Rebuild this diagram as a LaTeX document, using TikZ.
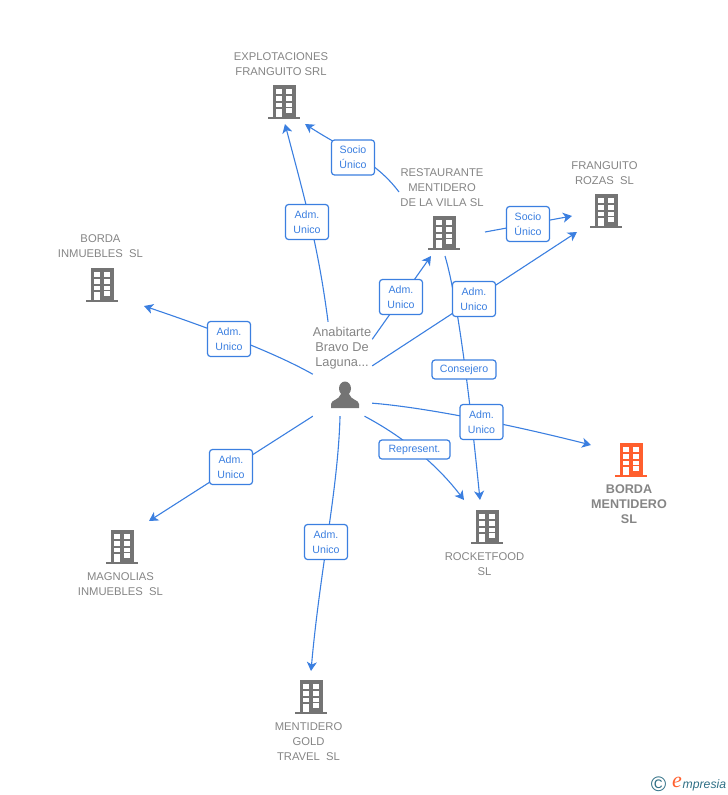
\documentclass[tikz,border=0pt]{standalone}
\usepackage{fontspec}
\setmainfont{Liberation Sans}
\newfontfamily\logofont{Liberation Serif}
\usepackage{xcolor}
\usepackage{tikz}
\usetikzlibrary{arrows.meta, calc}

\definecolor{linkblue}{HTML}{3B7FE0}
\definecolor{icongray}{HTML}{747474}
\definecolor{textgray}{HTML}{858585}
\definecolor{iconorange}{HTML}{FF5F2E}
\definecolor{logoteal}{HTML}{2F6F85}

\tikzset{
    building/.pic={
        \fill[pic actions] (-11.5,-17) rectangle (11.5,15);
        \fill[pic actions] (-16,15) rectangle (16,17);
        \foreach \wy/\wh in {-12.7/4.7, -6/4.7, 0.7/4.2} {
            \fill[white] (-8,\wy) rectangle +(5.5,\wh);
            \fill[white] (2,\wy) rectangle +(5.5,\wh);
        }
        \fill[white] (2,6.3) rectangle +(5.5,4.4);
        \fill[white] (-8,7) rectangle (-2.5,15);
    },
    personicon/.pic={
        \fill[icongray] (0,-6.5) ellipse (6 and 7);
        \fill[icongray] (-14,13) -- (-14,9) .. controls (-14,5) and (-6,5) .. (-4,-1)
            -- (4,-1) .. controls (6,5) and (14,5) .. (14,9) -- (14,13) -- cycle;
    }
}

\begin{document}
\begin{tikzpicture}[
    x=1pt, y=-1pt,
    company/.style={minimum width=32pt, minimum height=34pt, inner sep=0pt},
    owner/.style={minimum width=59pt, minimum height=94pt, inner sep=0pt},
    cname/.style={align=center, text=textgray, inner sep=0pt, font=\fontsize{11.25}{15}\selectfont},
    mainname/.style={cname, font=\fontsize{12.6}{15}\selectfont\bfseries},
    ownername/.style={cname, font=\fontsize{12.8}{15}\selectfont},
    link/.style={draw=linkblue, line width=1.1pt, -{Stealth[length=9pt, width=10pt, inset=2.5pt]}},
    tagbox/.style={draw=linkblue, line width=1.2pt, rounded corners=3pt, fill=white, align=center, text=linkblue,
        inner sep=0pt, font=\fontsize{10.6}{15}\selectfont},
    tagtall/.style={tagbox, minimum width=43pt, minimum height=35pt},
    tagflat/.style={tagbox, minimum height=19pt}
]
\useasboundingbox (0,0) rectangle (728,795);

\node[company] (explot) at (284,102) {};
\node[company] (resta) at (444,233) {};
\node[company] (frang) at (606,211) {};
\node[company] (bordain) at (102,285) {};
\node[company] (magno) at (122,547) {};
\node[company] (gold) at (311,697) {};
\node[company] (rocket) at (487,527) {};
\node[company] (bordam) at (631,460) {};
\node[owner] (person) at (342.5,369) {};

\foreach \c in {explot, resta, frang, bordain, magno, gold, rocket}
    \pic[fill=icongray] at (\c) {building};
\pic[fill=iconorange] at (bordam) {building};
\pic at (345,395) {personicon};

\node[cname] (explottxt) at (281,64.3) {EXPLOTACIONES\\FRANGUITO SRL};
\node[cname] (restatxt) at (442,187.8) {RESTAURANTE\\MENTIDERO\\DE LA VILLA SL};
\node[cname] (frangtxt) at (604.5,173.3) {FRANGUITO\\ROZAS\ \ SL};
\node[cname] (bordaintxt) at (100.5,246.3) {BORDA\\INMUEBLES\ \ SL};
\node[cname] (magnotxt) at (120.5,584.3) {MAGNOLIAS\\INMUEBLES\ \ SL};
\node[cname] (goldtxt) at (308.5,741.8) {MENTIDERO\\GOLD\\TRAVEL\ \ SL};
\node[cname] (rockettxt) at (484.5,564.3) {ROCKETFOOD\\SL};
\node[mainname] (bordamtxt) at (629,504) {BORDA\\MENTIDERO\\SL};
\node[ownername] (persontxt) at (342,348) {Anabitarte\\Bravo De\\Laguna...};

% free ends next to the companies
\coordinate (explotA) at ($(explot)+(1,22)$);
\coordinate (explotB) at ($(explot)+(21,22)$);
\coordinate (restaA) at ($(resta)+(-13,23)$);
\coordinate (restaB) at ($(resta)+(1,23)$);
\coordinate (restaC) at ($(resta)+(41,-1)$);
\coordinate (restaD) at ($(resta)+(-45,-41)$);
\coordinate (frangA) at ($(frang)+(-34,5)$);
\coordinate (frangB) at ($(frang)+(-29,21)$);
\coordinate (bordainA) at ($(bordain)+(42,21)$);
\coordinate (magnoA) at ($(magno)+(27,-26)$);
\coordinate (goldA) at ($(gold)+(0,-26)$);
\coordinate (rocketA) at ($(rocket)+(-23,-27)$);
\coordinate (rocketB) at ($(rocket)+(-7,-27)$);
\coordinate (bordamA) at ($(bordam)+(-40,-15)$);

\draw[link] (person.107) .. controls (318,245) and (305,200) .. (explotA);
\draw[link] (restaD) .. controls (375,160) and (345,150) .. (explotB);
\draw[link] (person.45) -- (restaA);
\draw[link] (person.6) -- (frangB);
\draw[link] (restaC) -- (frangA);
\draw[link] (restaB) .. controls (458,300) and (470,400) .. (rocketB);
\draw[link] (person.-49) .. controls (420,407) and (500,422) .. (bordamA);
\draw[link] (person.-65) .. controls (400,435) and (435,462) .. (rocketA);
\draw[link] (person.-93) .. controls (338,490) and (320,570) .. (goldA);
\draw[link] (person.south west) -- (magnoA);
\draw[link] (person.-170) .. controls (270,350) and (200,325) .. (bordainA);

\node[tagtall] (tagexplot) at (307,222) {Adm.\\Unico};
\node[tagtall] (tagsocio) at (353,157.5) {Socio\\Único};
\node[tagtall] (tagresta) at (401,297) {Adm.\\Unico};
\node[tagtall] (tagfrang) at (474,299) {Adm.\\Unico};
\node[tagtall] (tagsocioB) at (528,224) {Socio\\Único};
\node[tagflat, minimum width=64pt] (tagcons) at (464,369.5) {Consejero};
\node[tagtall] (tagborda) at (481.5,422) {Adm.\\Unico};
\node[tagflat, minimum width=71pt] (tagrep) at (414.5,449.5) {Represent.};
\node[tagtall] (taggold) at (326,542) {Adm.\\Unico};
\node[tagtall] (tagmagno) at (231,467) {Adm.\\Unico};
\node[tagtall] (tagbordain) at (229,339) {Adm.\\Unico};

\node[inner sep=0pt, text=logoteal, font=\fontsize{21}{21}\selectfont] (logoc) at (658.5,784.5) {©};
\node[inner sep=0pt, text=iconorange, font=\logofont\itshape\fontsize{22}{22}\selectfont] (logoe) at (677,782) {e};
\node[inner sep=0pt, text=logoteal, anchor=west, font=\itshape\fontsize{12.2}{14}\selectfont] (logot) at (682.5,785) {mpresia};
\end{tikzpicture}
\end{document}
